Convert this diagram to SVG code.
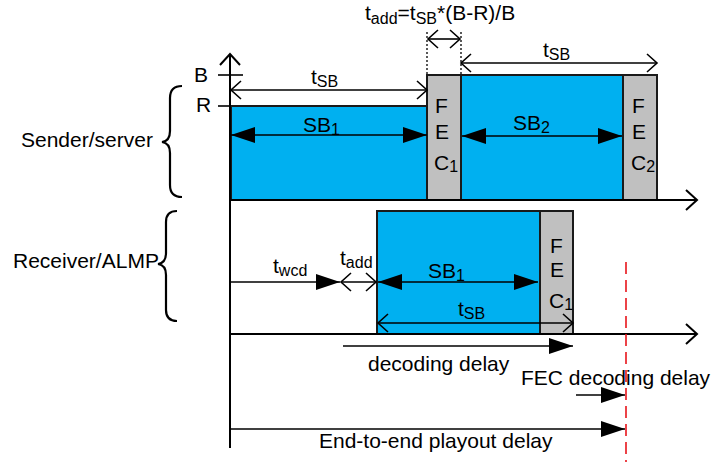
<svg xmlns="http://www.w3.org/2000/svg" width="711" height="462" viewBox="0 0 711 462">
<style>
text{font-family:"Liberation Sans",Arial,sans-serif;font-size:21px;fill:#000}
.sub{font-size:16px}
.blk{fill:#00B0F0;stroke:#1a1a1a;stroke-width:2}
.fec{fill:#C0C0C0;stroke:#1a1a1a;stroke-width:2}
.ax{stroke:#000;stroke-width:2;fill:none}
.ln{stroke:#000;stroke-width:1.6;fill:none}
.fa{stroke:#000;stroke-width:1.6;fill:none;marker-end:url(#fa)}
.fa2{stroke:#000;stroke-width:1.6;fill:none;marker-end:url(#fa);marker-start:url(#fa)}
.oa2{stroke:#000;stroke-width:1.6;fill:none;marker-end:url(#oa);marker-start:url(#oa)}
.brace{stroke:#000;stroke-width:2.2;fill:none}
</style>
<defs>
<marker id="fa" markerUnits="userSpaceOnUse" markerWidth="26" markerHeight="18" refX="24" refY="8" orient="auto-start-reverse"><path d="M0,0 L24,8 L0,16 z" fill="#000"/></marker>
<marker id="oa" markerUnits="userSpaceOnUse" markerWidth="14" markerHeight="22" refX="11" refY="10" orient="auto-start-reverse"><path d="M1,1 L11,10 L1,19" fill="none" stroke="#000" stroke-width="1.6"/></marker>
<marker id="ax" markerUnits="userSpaceOnUse" markerWidth="14" markerHeight="24" refX="12" refY="11" orient="auto"><path d="M1,1 L12,11 L1,21" fill="none" stroke="#000" stroke-width="2"/></marker>
</defs>

<g id="labels">
<text x="21" y="147">Sender/server</text>
<text x="13" y="268">Receiver/ALMP</text>
<text x="194" y="82">B</text>
<text x="196" y="112">R</text>
</g>

<g id="sender-blocks">
<g id="sb1-sender"><rect class="blk" x="231" y="106" width="196" height="94"/></g>
<g id="fec1-sender"><rect class="fec" x="427" y="75" width="34" height="125"/>
<text x="435" y="113">F</text><text x="435" y="139">E</text><text x="434" y="170">C<tspan class="sub" dy="2">1</tspan></text></g>
<g id="sb2-sender"><rect class="blk" x="461" y="75" width="162" height="125"/></g>
<g id="fec2-sender"><rect class="fec" x="623" y="75" width="34" height="125"/>
<text x="632" y="113">F</text><text x="632" y="139">E</text><text x="631" y="170">C<tspan class="sub" dy="2">2</tspan></text></g>
</g>

<g id="receiver-blocks">
<g id="sb1-receiver"><rect class="blk" x="377" y="211" width="163" height="123"/></g>
<g id="fec1-receiver"><rect class="fec" x="540" y="211" width="33" height="123"/>
<text x="550" y="253">F</text><text x="550" y="277">E</text><text x="549" y="308">C<tspan class="sub" dy="2">1</tspan></text></g>
</g>

<g id="connectors">
<!-- axes -->
<line class="ax" x1="230" y1="448" x2="230" y2="54" marker-end="url(#ax)"/>
<line class="ax" x1="230" y1="200" x2="697" y2="200" marker-end="url(#ax)"/>
<line class="ax" x1="230" y1="334" x2="697" y2="334" marker-end="url(#ax)"/>
<line class="ln" x1="218" y1="75" x2="243" y2="75"/>
<line class="ln" x1="218" y1="106" x2="231" y2="106"/>
<!-- sender -->
<line class="oa2" x1="231" y1="90" x2="427" y2="90"/>
<line class="oa2" x1="461" y1="63" x2="657" y2="63"/>
<line class="oa2" x1="428" y1="39" x2="460" y2="39"/>
<line x1="427" y1="32" x2="427" y2="75" stroke="#000" stroke-width="1.3" stroke-dasharray="2,2"/>
<line x1="461" y1="32" x2="461" y2="75" stroke="#000" stroke-width="1.3" stroke-dasharray="2,2"/>
<line class="fa2" x1="231" y1="135" x2="427" y2="135"/>
<line class="fa2" x1="462" y1="136" x2="622" y2="136"/>
<!-- receiver -->
<line class="fa" x1="231" y1="282" x2="340" y2="282"/>
<line class="oa2" x1="341" y1="282" x2="376" y2="282"/>
<line class="fa2" x1="378" y1="282" x2="538" y2="282"/>
<line class="oa2" x1="378" y1="323" x2="573" y2="323"/>
<line class="fa" x1="343" y1="346" x2="573" y2="346"/>
<line class="fa" x1="576" y1="395" x2="625" y2="395"/>
<line class="fa" x1="231" y1="429" x2="625" y2="429"/>
<line x1="626" y1="262" x2="626" y2="462" stroke="#E8141B" stroke-width="1.6" stroke-dasharray="12,6"/>
<!-- braces -->
<path class="brace" d="M182,86 Q170,86 170,98 L170,131 Q170,141 162,142 Q170,143 170,153 L170,185 Q170,197 182,197"/>
<path class="brace" d="M177,211 Q166,211 166,222 L166,253 Q166,263 158,264 Q166,265 166,275 L166,310 Q166,321 177,321"/>
</g>

<g id="annotations">
<text x="365" y="20">t<tspan class="sub" dy="4">add</tspan><tspan dy="-4">=t</tspan><tspan class="sub" dy="4">SB</tspan><tspan dy="-4">*(B-R)/B</tspan></text>
<text x="311" y="84">t<tspan class="sub" dy="3">SB</tspan></text>
<text x="543" y="57">t<tspan class="sub" dy="3">SB</tspan></text>
<text x="303" y="132">SB<tspan class="sub" dy="3">1</tspan></text>
<text x="513" y="130">SB<tspan class="sub" dy="3">2</tspan></text>
<text x="273" y="273">t<tspan class="sub" dy="3">wcd</tspan></text>
<text x="340" y="265">t<tspan class="sub" dy="3">add</tspan></text>
<text x="428" y="278">SB<tspan class="sub" dy="3">1</tspan></text>
<text x="458" y="316">t<tspan class="sub" dy="3">SB</tspan></text>
<text x="368" y="371">decoding delay</text>
<text x="521" y="385">FEC decoding delay</text>
<text x="319" y="448">End-to-end playout delay</text>
</g>
</svg>
